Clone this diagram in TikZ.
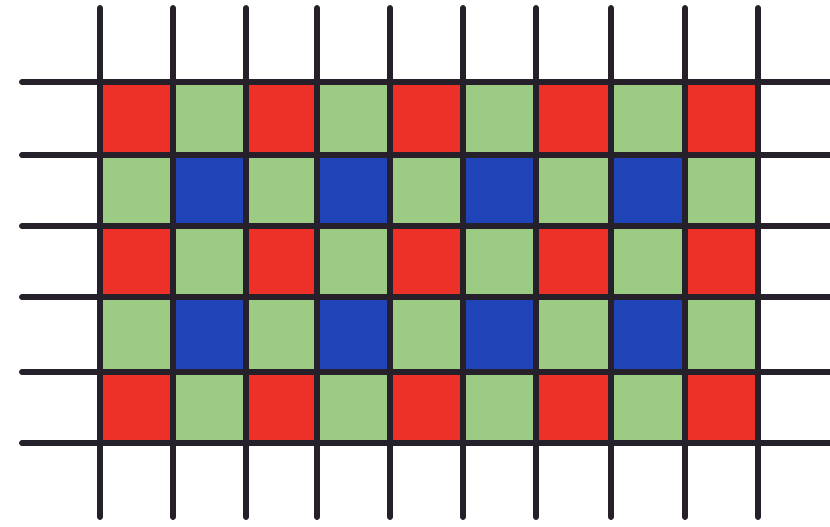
\documentclass[tikz,border=0pt]{standalone}
\definecolor{bred}{HTML}{EE3128}
\definecolor{bgreen}{HTML}{9CCB84}
\definecolor{bblue}{HTML}{1E44B8}
\definecolor{gridc}{HTML}{26202A}
\tikzset{
  gridline/.style={draw=gridc, line width=6pt, line cap=round},
  rcell/.style={fill=bred},
  gcell/.style={fill=bgreen},
  bcell/.style={fill=bblue}
}
\begin{document}
\begin{tikzpicture}[x=1pt,y=-1pt]
\useasboundingbox (0,0) rectangle (830,527);
\def\xs{{100,173,246,317,390,463,536,611,685,758}}
\def\ys{{82,155,226,297,372,443}}
\foreach \r in {0,...,4}{
  \foreach \c in {0,...,8}{
    \pgfmathsetmacro\xa{\xs[\c]}
    \pgfmathsetmacro\xb{\xs[\c+1]}
    \pgfmathsetmacro\ya{\ys[\r]}
    \pgfmathsetmacro\yb{\ys[\r+1]}
    \pgfmathtruncatemacro\re{mod(\r,2)}
    \pgfmathtruncatemacro\ce{mod(\c,2)}
    \ifnum\re=0
      \ifnum\ce=0 \def\sty{rcell}\else \def\sty{gcell}\fi
    \else
      \ifnum\ce=0 \def\sty{gcell}\else \def\sty{bcell}\fi
    \fi
    \path[\sty] (\xa,\ya) rectangle (\xb,\yb);
  }
}
\foreach \y in {82,155,226,297,372,443}{
  \draw[gridline] (22,\y) -- (836,\y);
}
\foreach \x in {100,173,246,317,390,463,536,611,685,758}{
  \draw[gridline] (\x,8) -- (\x,517);
}
\end{tikzpicture}
\end{document}
